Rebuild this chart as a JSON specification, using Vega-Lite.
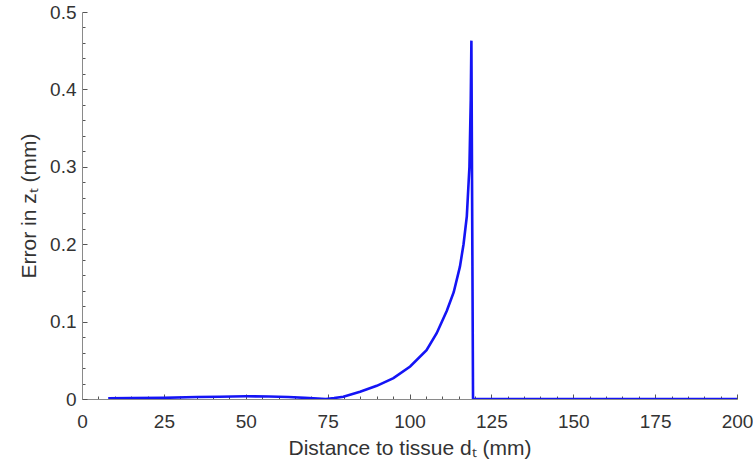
{
  "$schema": "https://vega.github.io/schema/vega-lite/v6.json",
  "width": 655,
  "height": 387,
  "autosize": {"type": "none"},
  "padding": {"left": 82, "top": 12, "right": 16, "bottom": 71},
  "background": "white",
  "config": {
    "view": {"stroke": null},
    "font": "Liberation Sans",
    "axis": {
      "labelFont": "Liberation Sans",
      "titleFont": "Liberation Sans",
      "labelFontSize": 19,
      "titleFontSize": 21,
      "titleFontWeight": "normal",
      "labelColor": "#333333",
      "titleColor": "#333333",
      "domainColor": "#8a8a8a",
      "domainWidth": 1,
      "tickColor": "#555555",
      "tickWidth": 1,
      "grid": false
    }
  },
  "data": {
    "values": [
      {"d": 8, "err": 0.001},
      {"d": 15, "err": 0.0012},
      {"d": 25, "err": 0.0015},
      {"d": 35, "err": 0.0025},
      {"d": 42, "err": 0.003},
      {"d": 50, "err": 0.0035},
      {"d": 57, "err": 0.0033},
      {"d": 63, "err": 0.0025},
      {"d": 68, "err": 0.0015},
      {"d": 72, "err": 0.0005},
      {"d": 74.5, "err": 0.0},
      {"d": 77, "err": 0.0012},
      {"d": 79.8, "err": 0.003},
      {"d": 84.9, "err": 0.0094},
      {"d": 90, "err": 0.017},
      {"d": 95.1, "err": 0.027},
      {"d": 100.2, "err": 0.042},
      {"d": 105.2, "err": 0.063},
      {"d": 108.3, "err": 0.085},
      {"d": 111.4, "err": 0.114},
      {"d": 113.5, "err": 0.138},
      {"d": 115.4, "err": 0.171},
      {"d": 116.5, "err": 0.2},
      {"d": 117.5, "err": 0.236},
      {"d": 118.3, "err": 0.3},
      {"d": 118.7, "err": 0.386},
      {"d": 118.9, "err": 0.463},
      {"d": 119.4, "err": 0.0},
      {"d": 200, "err": 0.0}
    ]
  },
  "mark": {"type": "line", "color": "#1414f5", "strokeWidth": 2.6, "clip": true},
  "encoding": {
    "x": {
      "field": "d",
      "type": "quantitative",
      "scale": {"domain": [0, 200], "nice": false, "zero": false},
      "axis": {
        "title": "Distance to tissue dₜ (mm)",
        "values": [0,5,10,15,20,25,30,35,40,45,50,55,60,65,70,75,80,85,90,95,100,105,110,115,120,125,130,135,140,145,150,155,160,165,170,175,180,185,190,195,200],
        "labelExpr": "datum.value % 25 === 0 ? datum.label : ''",
        "labelOverlap": false,
        "labelFlush": false,
        "tickSize": {"condition": {"test": "datum.value % 25 === 0", "value": -5}, "value": -3},
        "labelPadding": 18,
        "titlePadding": 4
      }
    },
    "y": {
      "field": "err",
      "type": "quantitative",
      "scale": {"domain": [0, 0.5], "nice": false},
      "axis": {
        "title": "Error in zₜ (mm)",
        "values": [0,0.02,0.04,0.06,0.08,0.1,0.12,0.14,0.16,0.18,0.2,0.22,0.24,0.26,0.28,0.3,0.32,0.34,0.36,0.38,0.4,0.42,0.44,0.46,0.48,0.5],
        "labelExpr": "abs(datum.value*10 - round(datum.value*10)) < 1e-6 ? format(datum.value, '~g') : ''",
        "labelOverlap": false,
        "labelFlush": false,
        "tickSize": {"condition": {"test": "abs(datum.value*10 - round(datum.value*10)) < 1e-6", "value": -5}, "value": -3},
        "labelPadding": 11,
        "titlePadding": 10
      }
    }
  }
}
